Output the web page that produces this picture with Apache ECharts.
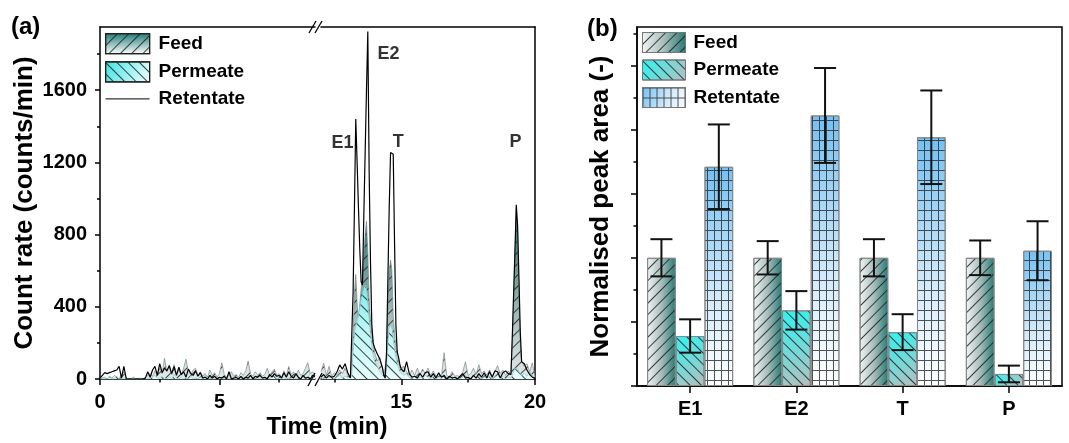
<!DOCTYPE html>
<html>
<head>
<meta charset="utf-8">
<script src="https://cdn.jsdelivr.net/npm/echarts@6/dist/echarts.min.js"></script>
<style>
  html, body { margin: 0; background: #fff; }
  #chart { width: 1069px; height: 443px; }
</style>
</head>
<body>
<div id="chart"></div>
<script>
// ---- panel (a): chromatogram, broken time axis (0-9 | 12-20 min) ----
// left part sampled every 0.1 min
const timeLeft = Array.from({ length: 91 }, (_, i) => +(i * 0.1).toFixed(1));
const retentateLeft = [5, 20, 35, 30, 35, 40, 45, 50, 70, 5,
  70, 0, 0, 0, 0, 0, 0, 0, 0, 5,
  40, 10, 50, 70, 20, 85, 35, 60, 45, 75,
  30, 70, 20, 65, 25, 40, 10, 55, 30, 20,
  45, 15, 35, 5, 10, 0, 20, 5, 15, 0,
  10, 5, 15, 0, 40, 0, 5, 10, 0, 15,
  0, 10, 5, 20, 0, 15, 10, 20, 5, 10,
  0, 25, 10, 30, 15, 20, 5, 35, 10, 40,
  15, 5, 30, 10, 0, 20, 5, 10, 0, 20,
  15];
const feedLeft = [0, 5, 10, 0, 15, 5, 20, 10, 0, 25,
  40, 5, 0, 0, 10, 0, 0, 5, 0, 10,
  20, 30, 15, 45, 20, 60, 30, 115, 40, 70,
  25, 80, 30, 50, 20, 60, 110, 40, 25, 50,
  60, 20, 40, 15, 30, 10, 50, 20, 35, 10,
  30, 90, 25, 10, 20, 40, 15, 25, 10, 35,
  20, 45, 100, 30, 15, 40, 20, 35, 15, 25,
  60, 20, 40, 55, 20, 30, 10, 45, 15, 70,
  25, 40, 15, 50, 20, 30, 60, 90, 30, 40,
  20];
const permeateLeft = [0, 0, 5, 0, 10, 0, 0, 15, 0, 0,
  5, 0, 0, 0, 0, 0, 0, 0, 0, 0,
  0, 5, 10, 20, 5, 0, 15, 5, 0, 10,
  0, 25, 5, 0, 10, 0, 5, 0, 15, 0,
  5, 0, 10, 0, 20, 0, 5, 0, 0, 10,
  0, 5, 0, 10, 0, 0, 15, 0, 5, 0,
  10, 0, 5, 0, 20, 0, 5, 0, 10, 0,
  5, 0, 15, 25, 0, 5, 0, 10, 0, 5,
  0, 15, 0, 5, 0, 10, 0, 5, 30, 10,
  5];

// right part, finer sampling across the peaks
const timeRight = [12.0, 12.1, 12.2, 12.3, 12.4, 12.5, 12.6, 12.7, 12.8, 12.9, 13.0, 13.1,
  13.15, 13.2, 13.25, 13.3, 13.35, 13.4, 13.45, 13.5, 13.55, 13.6, 13.65, 13.7, 13.75, 13.8, 13.85, 13.9, 13.95, 14.0,
  14.1, 14.2, 14.3,
  14.35, 14.4, 14.45, 14.5, 14.55, 14.6, 14.65, 14.7, 14.75, 14.8, 14.85, 14.9, 14.95, 15.0,
  15.1, 15.2, 15.3, 15.4, 15.5, 15.6, 15.7, 15.8, 15.9, 16.0,
  16.1, 16.2, 16.3, 16.4, 16.5, 16.6, 16.7, 16.8, 16.9, 17.0,
  17.1, 17.2, 17.3, 17.4, 17.5, 17.6, 17.7, 17.8, 17.9, 18.0,
  18.1, 18.2, 18.3, 18.4, 18.5, 18.6, 18.7, 18.8, 18.9, 19.0, 19.1,
  19.15, 19.2, 19.25, 19.3, 19.35, 19.4, 19.45, 19.5,
  19.6, 19.7, 19.8, 19.9, 20.0];
const retentateRight = [10, 25, 5, 20, 10, 15, 40, 78, 55, 85, 35, 5,
  10, 480, 950, 1440, 1200, 950, 720, 540, 520, 900, 1250, 1600, 1925, 1150, 650, 300, 200, 175,
  140, 110, 60,
  20, 5, 150, 550, 950, 1255, 1258, 1245, 750, 300, 150, 120, 80, 55,
  40, 96, 30, 10, 15, 5, 30, 10, 35, 40,
  10, 30, 5, 35, 10, 20, 0, 15, 5, 10,
  0, 15, 30, 5, 10, 0, 20, 5, 30, 10,
  35, 5, 40, 10, 45, 40, 5, 35, 45, 30, 25,
  230, 470, 710, 965, 850, 560, 260, 96,
  85, 50, 25, 10, 5];
const feedRight = [40, 87, 20, 70, 15, 35, 20, 50, 30, 60, 20, 10,
  10, 250, 480, 580, 420, 330, 420, 500, 560, 700, 800, 873, 700, 440, 330, 250, 200, 150,
  100, 120, 60,
  20, 10, 120, 400, 600, 660, 600, 350, 250, 180, 120, 100, 60, 50,
  70, 40, 20, 50, 20, 60, 25, 55, 30, 60,
  20, 45, 15, 30, 10, 146, 20, 10, 40, 15,
  20, 10, 40, 95, 20, 30, 60, 25, 80, 30,
  45, 20, 50, 15, 40, 75, 30, 50, 20, 45, 25,
  200, 430, 680, 940, 800, 450, 200, 100,
  70, 85, 40, 90, 10];
const permeateRight = [10, 0, 15, 5, 20, 0, 10, 25, 5, 15, 10, 5,
  20, 150, 250, 300, 320, 350, 400, 440, 470, 500, 520, 500, 420, 330, 250, 180, 130, 100,
  70, 40, 20,
  10, 5, 80, 200, 280, 300, 280, 220, 170, 120, 90, 60, 40, 30,
  20, 30, 10, 5, 15, 0, 10, 5, 20, 10,
  0, 15, 5, 10, 0, 25, 5, 0, 10, 5,
  15, 0, 10, 20, 5, 0, 15, 5, 20, 0,
  10, 5, 15, 0, 10, 20, 5, 15, 0, 10, 5,
  20, 40, 60, 70, 60, 40, 30, 20,
  30, 15, 40, 20, 5];

const peakNames = ["E1", "E2", "T", "P"];
const peakLabelTime = [12.8, 14.52, 14.89, 19.27];
const peakLabelCount = [1308, 1803, 1311, 1311];
const countTicks = [0, 400, 800, 1200, 1600];
const countMinorTicks = [200, 600, 1000, 1400, 1800];

// ---- panel (b): normalised peak areas ----
const categories = ["E1", "E2", "T", "P"];
const feedArea = [1, 1, 1, 1];
const feedErr = [0.145, 0.13, 0.145, 0.135];
const permeateArea = [0.39, 0.59, 0.42, 0.094];
const permeateErr = [0.13, 0.15, 0.14, 0.065];
const retentateArea = [1.71, 2.11, 1.94, 1.055];
const retentateErr = [0.33, 0.37, 0.365, 0.23];
const areaTicks = [0, 0.5, 1, 1.5, 2, 2.5];
const areaMinorTicks = [0.25, 0.75, 1.25, 1.75, 2.25, 2.75];

const FONT = "Liberation Sans";
const BAR_GAP = 0.19;

const chart = echarts.init(document.getElementById("chart"));
const LG = echarts.graphic.LinearGradient;

const hatchUp = { symbol: "rect", symbolSize: 1, dashArrayX: [1, 0], dashArrayY: [1, 7], rotation: -Math.PI / 4, color: "rgba(30,30,30,0.85)" };
const hatchDown = { symbol: "rect", symbolSize: 1, dashArrayX: [1, 0], dashArrayY: [1, 7], rotation: Math.PI / 4, color: "rgba(30,30,30,0.85)" };
const gridDecal = { symbol: "path://M0,0H7V1H1V10H0Z", symbolSize: 1, symbolKeepAspect: false, dashArrayX: [7, 0], dashArrayY: [10, 0], color: "rgba(40,40,40,0.8)" };

// area fills use pixel coords so both halves of the broken axis share one gradient
const feedAreaColor = new LG(0, 27, 0, 379, [
  { offset: 0, color: "#0f5f5b" }, { offset: 0.52, color: "#1e716c" },
  { offset: 0.7, color: "#6f9c99" }, { offset: 0.88, color: "#b9cccb" }, { offset: 1, color: "#e4eaea" }], true);
const permeateAreaColor = new LG(0, 27, 0, 379, [
  { offset: 0, color: "#00d8dc" }, { offset: 0.72, color: "#72eaec" },
  { offset: 0.85, color: "#b8f6f6" }, { offset: 1, color: "#e6fdfd" }], true);

const feedBarColor = new LG(0, 0, 1, 0, [{ offset: 0, color: "#f2f5f5" }, { offset: 0.5, color: "#a7bdbb" }, { offset: 1, color: "#257a74" }]);
const permeateBarColor = new LG(0, 0, 1, 1, [{ offset: 0, color: "#2ff3f3" }, { offset: 1, color: "#b5c0c0" }]);
const retentateBarColor = new LG(0, 0, 1, 1, [{ offset: 0, color: "#72c0f3" }, { offset: 0.6, color: "#d4ebfb" }, { offset: 1, color: "#ffffff" }]);

const blackLine = { color: "#000", width: 1.5 };
const tickLabel = { fontSize: 20, fontWeight: "bold", color: "#000", fontFamily: FONT, formatter: (v) => String(v) };
const titleText = { fontSize: 26, fontWeight: "bold", color: "#000", fontFamily: FONT };

function frameAxis(grid, min, max, position) {
  return {
    gridIndex: grid, type: "value", min: min, max: max, position: position,
    axisLine: { show: true, onZero: false, lineStyle: blackLine },
    axisTick: { show: false }, axisLabel: { show: false }, splitLine: { show: false },
  };
}
function tickAxis(grid, min, max, position, ticks, len, labels) {
  return {
    gridIndex: grid, type: "value", min: min, max: max, position: position,
    axisLine: { show: !!labels, onZero: false, lineStyle: blackLine },
    axisTick: { show: true, customValues: ticks, length: len, lineStyle: blackLine },
    axisLabel: labels ? Object.assign({ customValues: labels, margin: 13 }, tickLabel) : { show: false },
    splitLine: { show: false },
  };
}

function pairs(t, v) {
  return t.map((x, i) => [x, v[i]]);
}

function areaSeries(name, xi, yi, t, v, color, line, decal, z) {
  return {
    name: name, type: "line", xAxisIndex: xi, yAxisIndex: yi, data: pairs(t, v),
    symbol: "none", z: z,
    lineStyle: { color: line, width: 0.7, decal: decal },
    itemStyle: { color: line, decal: decal },
    areaStyle: { color: color, opacity: 1 },
  };
}

function errorData(values, errs, k) {
  return values.map((v, i) => [i, v - errs[i], v + errs[i], k]);
}

function renderErrorBar(params, api) {
  const i = api.value(0);
  const k = api.value(3);
  const band = api.size([1, 0])[0];
  const barW = (band * (1 - BAR_GAP)) / 3;
  const cx = api.coord([i, 0])[0] + (k - 1) * barW;
  const lo = api.coord([i, api.value(1)])[1];
  const hi = api.coord([i, api.value(2)])[1];
  const style = { stroke: "#111", lineWidth: 2 };
  return {
    type: "group",
    children: [
      { type: "line", shape: { x1: cx, y1: hi, x2: cx, y2: lo }, style: style },
      { type: "line", shape: { x1: cx - 11, y1: hi, x2: cx + 11, y2: hi }, style: style },
      { type: "line", shape: { x1: cx - 11, y1: lo, x2: cx + 11, y2: lo }, style: style },
    ],
  };
}

const legendText = { fontSize: 19, fontWeight: "bold", color: "#000", fontFamily: FONT };

let option = {
  animation: false,
  textStyle: { fontFamily: FONT },
  grid: [
    { left: 100, top: 27, width: 215, height: 352 },
    { left: 321, top: 27, width: 214, height: 352 },
    { left: 637, right: 7, top: 27, bottom: 57, show: true, borderColor: "#000", borderWidth: 1.5, backgroundColor: "transparent" },
  ],
  legend: [
    {
      left: 105, top: 33, orient: "vertical", padding: 0, itemWidth: 44, itemHeight: 20, itemGap: 7,
      selectedMode: false, textStyle: Object.assign({ padding: [0, 0, 0, 4] }, legendText),
      data: [
        { name: "Feed", icon: "rect", itemStyle: { color: new LG(0, 0, 0, 1, [{ offset: 0, color: "#1f7a75" }, { offset: 1, color: "#ffffff" }]), borderColor: "#222", borderWidth: 1.2, decal: hatchUp } },
        { name: "Permeate", icon: "rect", itemStyle: { color: new LG(0, 0, 1, 1, [{ offset: 0, color: "#3fe4e6" }, { offset: 1, color: "#f2ffff" }]), borderColor: "#222", borderWidth: 1.2, decal: hatchDown } },
        { name: "Retentate", itemStyle: { opacity: 0 }, lineStyle: { color: "#000", width: 1 } },
      ],
    },
    {
      left: 642, top: 32, orient: "vertical", padding: 0, itemWidth: 43, itemHeight: 20, itemGap: 6.5,
      selectedMode: false, textStyle: Object.assign({ padding: [0, 0, 0, 3] }, legendText),
      data: [
        { name: "Feed", icon: "rect", itemStyle: { color: feedBarColor, borderColor: "#777", borderWidth: 1, decal: hatchUp } },
        { name: "Permeate", icon: "rect", itemStyle: { color: permeateBarColor, borderColor: "#777", borderWidth: 1, decal: hatchDown } },
        { name: "Retentate", icon: "rect", itemStyle: { color: retentateBarColor, borderColor: "#777", borderWidth: 1, decal: gridDecal } },
      ],
    },
  ],
  xAxis: [
    tickAxis(0, 0, 9, "bottom", [0, 5], 6, [0, 5]),
    tickAxis(0, 0, 9, "bottom", [2.5, 7.5], 3.5, null),
    frameAxis(0, 0, 9, "top"),
    tickAxis(1, 12, 20, "bottom", [15, 20], 6, [15, 20]),
    tickAxis(1, 12, 20, "bottom", [12.5, 17.5], 3.5, null),
    frameAxis(1, 12, 20, "top"),
    {
      gridIndex: 2, type: "category", data: categories,
      axisLine: { show: true, lineStyle: blackLine },
      axisTick: { show: true, alignWithLabel: true, length: 7, lineStyle: blackLine },
      axisLabel: { margin: 13, fontSize: 20, fontWeight: "bold", color: "#000", fontFamily: FONT },
    },
  ],
  yAxis: [
    Object.assign(tickAxis(0, 0, 1950, "left", countTicks, 5, countTicks), {
      name: "Count rate (counts/min)", nameLocation: "middle", nameGap: 62, nameTextStyle: titleText,
    }),
    tickAxis(0, 0, 1950, "left", countMinorTicks, 3, null),
    frameAxis(1, 0, 1950, "right"),
    Object.assign(tickAxis(2, 0, 2.8, "left", areaTicks, 6, null), {
      axisLine: { show: true, lineStyle: blackLine },
      name: "Normalised peak area (-)", nameLocation: "middle", nameGap: 23, nameTextStyle: titleText,
    }),
    tickAxis(2, 0, 2.8, "left", areaMinorTicks, 3.5, null),
  ],
  series: [
    areaSeries("Feed", 0, 0, timeLeft, feedLeft, feedAreaColor, "#7b8b8a", hatchUp, 2),
    areaSeries("Permeate", 0, 0, timeLeft, permeateLeft, permeateAreaColor, "#86cfd0", hatchDown, 3),
    { name: "Retentate", type: "line", xAxisIndex: 0, yAxisIndex: 0, data: pairs(timeLeft, retentateLeft), symbol: "none", z: 4, lineStyle: { color: "#000", width: 1.2 }, itemStyle: { color: "#000" } },
    areaSeries("Feed", 3, 2, timeRight, feedRight, feedAreaColor, "#7b8b8a", hatchUp, 2),
    areaSeries("Permeate", 3, 2, timeRight, permeateRight, permeateAreaColor, "#86cfd0", hatchDown, 3),
    { name: "Retentate", type: "line", xAxisIndex: 3, yAxisIndex: 2, data: pairs(timeRight, retentateRight), symbol: "none", z: 4, lineStyle: { color: "#000", width: 1.2 }, itemStyle: { color: "#000" } },
    {
      type: "scatter", xAxisIndex: 3, yAxisIndex: 2, symbolSize: 0, silent: true, z: 5,
      data: peakNames.map((n, i) => ({ name: n, value: [peakLabelTime[i], peakLabelCount[i]] })),
      label: { show: true, position: "inside", formatter: "{b}", fontSize: 18, fontWeight: "bold", color: "#000", fontFamily: FONT },
    },
    // panel (b) bars
    { name: "Feed", type: "bar", xAxisIndex: 6, yAxisIndex: 3, data: feedArea, barGap: "0%", barCategoryGap: BAR_GAP * 100 + "%", itemStyle: { color: feedBarColor, borderColor: "#888", borderWidth: 1, decal: hatchUp } },
    { name: "Permeate", type: "bar", xAxisIndex: 6, yAxisIndex: 3, data: permeateArea, itemStyle: { color: permeateBarColor, borderColor: "#888", borderWidth: 1, decal: hatchDown } },
    { name: "Retentate", type: "bar", xAxisIndex: 6, yAxisIndex: 3, data: retentateArea, itemStyle: { color: retentateBarColor, borderColor: "#888", borderWidth: 1, decal: gridDecal } },
    {
      type: "custom", xAxisIndex: 6, yAxisIndex: 3, z: 10, silent: true,
      data: errorData(feedArea, feedErr, 0).concat(errorData(permeateArea, permeateErr, 1), errorData(retentateArea, retentateErr, 2)),
      encode: { x: 0, y: [1, 2] },
      renderItem: renderErrorBar,
    },
  ],
  graphic: [
    { type: "text", x: 11, y: 15, style: { text: "(a)", font: "bold 24px " + FONT, fill: "#000" } },
    { type: "text", x: 587, y: 17, style: { text: "(b)", font: "bold 24px " + FONT, fill: "#000" } },
    { type: "text", x: 327, y: 427, style: { text: "Time (min)", font: "bold 24px " + FONT, fill: "#000", align: "center", verticalAlign: "middle" } },
    // axis break marks
    { type: "line", shape: { x1: 309, y1: 33, x2: 316, y2: 21 }, style: { stroke: "#000", lineWidth: 1.3 }, z: 100 },
    { type: "line", shape: { x1: 315, y1: 33, x2: 322, y2: 21 }, style: { stroke: "#000", lineWidth: 1.3 }, z: 100 },
    { type: "line", shape: { x1: 308, y1: 386, x2: 315, y2: 373 }, style: { stroke: "#000", lineWidth: 1.3 }, z: 100 },
    { type: "line", shape: { x1: 315, y1: 386, x2: 322, y2: 373 }, style: { stroke: "#000", lineWidth: 1.3 }, z: 100 },
  ],
};

option && chart.setOption(option);
</script>
</body>
</html>
